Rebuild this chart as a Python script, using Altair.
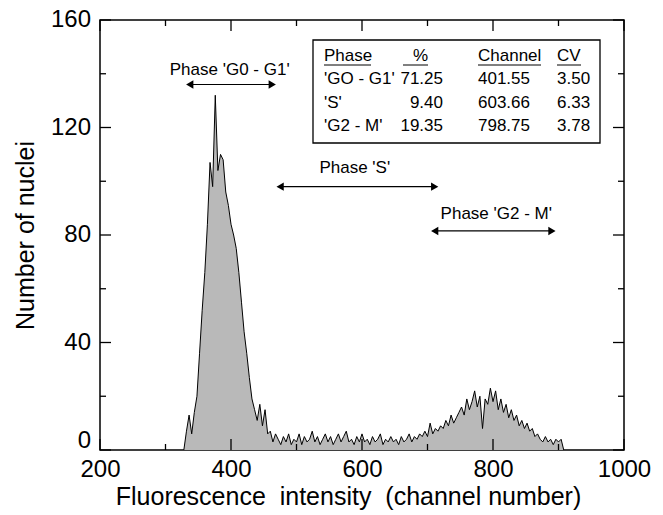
import altair as alt
import pandas as pd

FONT = "Liberation Sans"

# ---------------- data ----------------
channels = list(range(328, 912, 4))
counts = [
    0, 7, 13, 6, 14, 20, 36, 52,
    66, 84, 107, 98, 132, 104, 110, 108, 96, 91, 84, 80, 75, 66, 55, 44, 36, 27, 19, 15, 11, 17, 9, 15, 6,
    7, 3, 6, 4, 2, 5, 3, 6, 2, 4,
    3, 6, 2, 5, 3, 4, 7, 3, 5, 2,
    4, 6, 3, 5, 2, 4, 6, 3, 5, 7,
    3, 4, 2, 5, 3, 6, 3, 4, 2, 5,
    3, 4, 6, 2, 4, 3, 5, 3, 4, 2,
    5, 3, 4, 6, 3, 5, 4, 6, 5, 7,
    5,
    10, 6, 8, 7, 9, 8, 11, 9, 13, 10,
    12, 14, 16, 13, 19, 15, 18, 22, 16, 20,
    8, 19, 17, 23, 18, 22, 15, 19, 14, 17,
    12, 15, 11, 13, 9, 11, 8, 10, 7, 8,
    5, 6, 4, 3, 5, 3, 4, 2, 4, 3,
    4, 0,
]
assert len(channels) == len(counts)

x_ticks_major = [200, 400, 600, 800, 1000]
x_ticks_minor = [300, 500, 700, 900]
y_ticks_major = [0, 40, 80, 120, 160]
y_ticks_minor = [20, 60, 100, 140]
y_tick_labels = [40, 80, 120, 160]
y_zero_label = [0]

phase_labels = ["Phase 'G0 - G1'", "Phase 'S'", "Phase 'G2 - M'"]
label_x = [398, 589, 805]
label_y = [141.5, 105, 88]
arrow_start = [337, 475, 711]
arrow_end = [463, 711, 890]
arrow_y = [136, 98, 81.5]

table_header = ["Phase", "%", "Channel", "CV"]
table_phase = ["'GO - G1'", "'S'", "'G2 - M'"]
table_pct = ["71.25", "9.40", "19.35"]
table_channel = ["401.55", "603.66", "798.75"]
table_cv = ["3.50", "6.33", "3.78"]

# ---------------- chart ----------------
W, H = 524, 430
xs = alt.Scale(domain=[200, 1000], nice=False, zero=False)
ys = alt.Scale(domain=[0, 160], nice=False, zero=True)

XTITLE = "Fluorescence\u00a0\u00a0intensity\u00a0\u00a0(channel number)"
YTITLE = "Number of nuclei"
xa = alt.Axis(
    values=x_ticks_major, format="d", ticks=False, tickSize=0, domain=False, grid=False,
    labelFontSize=24, labelFont=FONT, labelColor="black", labelPadding=7,
    labelFlush=False, title=XTITLE,
    titleFontSize=25, titleFont=FONT, titleFontWeight="normal", titleColor="black",
    titlePadding=3, titleX=248)
ya = alt.Axis(
    labels=False, ticks=False, tickSize=0, domain=False, grid=False,
    title=YTITLE, titleFontSize=25, titleFont=FONT,
    titleFontWeight="normal", titleColor="black",
    titleX=-62, titleY=H / 2, titleBaseline="bottom")


def X(f):
    return alt.X(f, scale=xs, axis=xa, title=XTITLE)


def Y(f):
    return alt.Y(f, scale=ys, axis=ya, title=YTITLE)


hist = pd.DataFrame({"channel": channels, "count": counts})

area = alt.Chart(hist).mark_area(
    color="#b9b9b9", opacity=1, fillOpacity=1,
    line=alt.OverlayMarkDef(color="black", strokeWidth=1)
).encode(x=X("channel:Q"), y=Y("count:Q"))


def xtick(vals, length, top):
    df = pd.DataFrame({"v": vals})
    if top:
        yy, yy2 = 0, length
    else:
        yy, yy2 = H, H - length
    return alt.Chart(df).mark_rule(color="black", strokeWidth=1.3).encode(
        x=X("v:Q"), y=alt.value(yy), y2=alt.value(yy2))


def ytick(vals, length, right):
    df = pd.DataFrame({"v": vals})
    if right:
        xx, xx2 = W, W - length
    else:
        xx, xx2 = 0, length
    return alt.Chart(df).mark_rule(color="black", strokeWidth=1.3).encode(
        y=Y("v:Q"), x=alt.value(xx), x2=alt.value(xx2))


ticks = [
    xtick(x_ticks_major, 11, False), xtick(x_ticks_minor, 6, False),
    xtick(x_ticks_major, 11, True), xtick(x_ticks_minor, 6, True),
    ytick(y_ticks_major, 11, False), ytick(y_ticks_minor, 6, False),
    ytick(y_ticks_major, 11, True), ytick(y_ticks_minor, 6, True),
]

ylab = alt.Chart(pd.DataFrame({"v": y_tick_labels})).mark_text(
    align="right", baseline="middle", fontSize=24, font=FONT, color="black"
).encode(y=Y("v:Q"), x=alt.value(-9), text="v:Q")
ylab0 = alt.Chart(pd.DataFrame({"v": y_zero_label})).mark_text(
    align="right", baseline="middle", fontSize=24, font=FONT, color="black", dy=-9
).encode(y=Y("v:Q"), x=alt.value(-9), text="v:Q")

arr = pd.DataFrame({"s": arrow_start, "e": arrow_end, "y": arrow_y})
arrow_lines = alt.Chart(arr).mark_rule(color="black", strokeWidth=1.2).encode(
    x=X("s:Q"), x2="e:Q", y=Y("y:Q"))
head_l = alt.Chart(arr).mark_point(shape="triangle-left", filled=True, color="black",
                                   size=70, opacity=1).encode(x=X("s:Q"), y=Y("y:Q"))
head_r = alt.Chart(arr).mark_point(shape="triangle-right", filled=True, color="black",
                                   size=70, opacity=1).encode(x=X("e:Q"), y=Y("y:Q"))

lab = pd.DataFrame({"t": phase_labels, "x": label_x, "y": label_y})
phase_text = alt.Chart(lab).mark_text(fontSize=17, font=FONT, color="black",
                                      baseline="middle").encode(
    x=X("x:Q"), y=Y("y:Q"), text="t:N")

# ---------------- table inset ----------------
box = alt.Chart(pd.DataFrame({"a": [0]})).mark_rect(
    fill="white", stroke="black", strokeWidth=1.3
).encode(x=alt.value(213), x2=alt.value(500), y=alt.value(20), y2=alt.value(123))

col_x = [224, 328, 378, 457]
col_align = ["left", "right", "left", "left"]
num_align = ["left", "right", "left", "left"]
num_x = [224, 343, 378, 457]
row_y = [59, 83, 106]
header_y = 36

cells = []
for j, h in enumerate(table_header):
    cells.append(alt.Chart(pd.DataFrame({"t": [h]})).mark_text(
        align=col_align[j], baseline="middle", fontSize=17, font=FONT, color="black"
    ).encode(x=alt.value(col_x[j]), y=alt.value(header_y), text="t:N"))

underline_x = [(224, 271), (303, 328), (378, 441), (457, 481)]
for a, b in underline_x:
    cells.append(alt.Chart(pd.DataFrame({"a": [0]})).mark_rule(color="black", strokeWidth=1).encode(
        x=alt.value(a), x2=alt.value(b), y=alt.value(header_y + 9)))

columns = [table_phase, table_pct, table_channel, table_cv]
for j, col in enumerate(columns):
    for i, val in enumerate(col):
        cells.append(alt.Chart(pd.DataFrame({"t": [val]})).mark_text(
            align=num_align[j], baseline="middle", fontSize=17, font=FONT, color="black"
        ).encode(x=alt.value(num_x[j]), y=alt.value(row_y[i]), text="t:N"))

chart = alt.layer(
    area, *ticks, ylab, ylab0, arrow_lines, head_l, head_r, phase_text, box, *cells
).properties(
    width=W, height=H,
    padding={"left": 100, "top": 20, "right": 39, "bottom": 65},
    autosize=alt.AutoSizeParams(type="none"),
    background="white",
).configure_view(stroke="black", strokeWidth=1.5)

chart.save("out.html", embed_options={"renderer": "svg", "actions": False})
